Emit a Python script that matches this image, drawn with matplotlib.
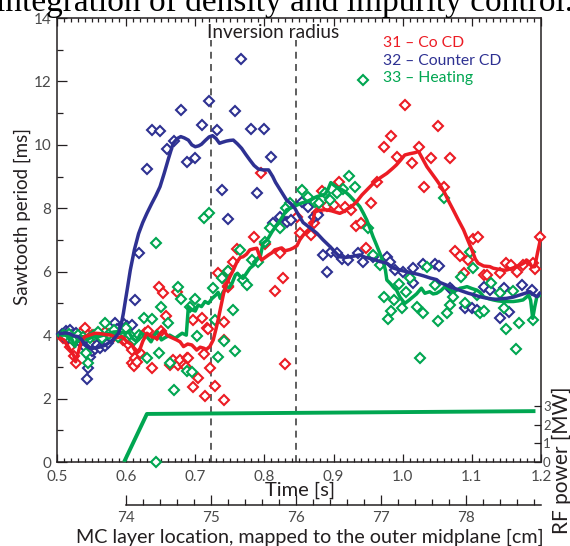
import matplotlib
matplotlib.use("Agg")
import matplotlib.pyplot as plt
from matplotlib.ticker import MultipleLocator, FixedLocator

plt.rcParams['font.family'] = ['Lato', 'DejaVu Sans']

# ---------------- data ----------------
# Sawtooth period scatter, discharge 31 (Co CD)
red_t = [0.508, 0.512, 0.516, 0.519, 0.524, 0.528, 0.532, 0.536, 0.540, 0.545,
         0.550, 0.555, 0.560, 0.565, 0.569, 0.575, 0.580, 0.585, 0.589, 0.595,
         0.600, 0.604, 0.608, 0.608, 0.611, 0.613, 0.616, 0.620, 0.627, 0.631,
         0.637, 0.644, 0.647, 0.651, 0.653, 0.658, 0.663, 0.668, 0.673, 0.675,
         0.678, 0.683, 0.688, 0.687, 0.690, 0.697, 0.697, 0.704, 0.709, 0.713,
         0.714, 0.717, 0.719, 0.721, 0.729, 0.733, 0.740, 0.741, 0.741, 0.742,
         0.747, 0.748, 0.748, 0.754, 0.761, 0.785, 0.795, 0.801, 0.815, 0.822,
         0.827, 0.830, 0.847, 0.852, 0.867, 0.871, 0.876, 0.883, 0.891, 0.900,
         0.908, 0.917, 0.925, 0.932, 0.939, 0.947, 0.954, 0.963, 0.973, 0.983,
         0.992, 1.003, 1.013, 1.023, 1.031, 1.041, 1.051, 1.060, 1.069, 1.076,
         1.083, 1.088, 1.095, 1.101, 1.109, 1.117, 1.122, 1.140, 1.150, 1.156,
         1.165, 1.174, 1.189, 1.192, 1.199]
red_v = [3.9, 4.0, 3.8, 3.64, 3.35, 3.11, 3.9, 4.1, 4.22, 4.0,
         4.0, 3.9, 4.05, 3.95, 4.11, 4.0, 3.9, 4.05, 3.95, 3.85,
         3.8, 3.7, 3.53, 3.11, 3.03, 3.27, 3.16, 3.43, 4.06, 4.13,
         2.95, 4.0, 5.51, 4.14, 5.34, 4.60, 3.06, 3.22, 5.37, 3.06,
         3.22, 3.06, 3.27, 3.01, 3.27, 4.48, 2.36, 2.64, 4.53, 3.41,
         2.09, 4.24, 4.19, 2.95, 2.40, 5.95, 5.79, 4.42, 3.85, 1.95,
         5.53, 6.03, 5.55, 6.30, 6.71, 7.11, 9.10, 6.87, 5.40, 6.58,
         5.81, 3.08, 7.74, 7.21, 7.16, 7.53, 7.84, 8.56, 8.07, 8.10,
         8.84, 8.03, 7.95, 7.44, 7.55, 6.74, 8.16, 8.84, 9.94, 10.29,
         9.63, 11.26, 9.42, 9.94, 8.68, 9.58, 10.61, 8.68, 9.58, 6.66,
         6.5, 5.97, 6.37, 7.02, 7.09, 5.9, 5.9, 5.95, 6.27, 6.2,
         6.0, 6.21, 6.27, 6.1, 7.09]

# Sawtooth period scatter, discharge 32 (Counter CD)
blue_t = [0.507, 0.510, 0.513, 0.516, 0.519, 0.522, 0.525, 0.528, 0.531, 0.534,
          0.537, 0.540, 0.544, 0.545, 0.548, 0.551, 0.555, 0.558, 0.562, 0.566,
          0.570, 0.574, 0.578, 0.584, 0.587, 0.591, 0.597, 0.601, 0.608, 0.613,
          0.618,
          0.630, 0.638, 0.649, 0.659, 0.669, 0.680, 0.688, 0.699, 0.709, 0.720,
          0.731, 0.739, 0.747, 0.758, 0.766, 0.780, 0.789, 0.799, 0.809, 0.813,
          0.823, 0.832, 0.839, 0.855, 0.863, 0.871, 0.878,
          0.885, 0.891, 0.897, 0.905, 0.912, 0.921, 0.936, 0.943, 0.957, 0.977,
          0.982, 0.989, 1.001, 1.015, 1.015, 1.029, 1.047, 1.053, 1.068, 1.071,
          1.090, 1.100, 1.107, 1.117, 1.126, 1.141, 1.146, 1.153, 1.172, 1.187]
blue_v = [4.05, 3.95, 4.12, 3.9, 4.15, 4.0, 3.85, 4.08, 3.95, 3.75,
          3.8, 3.62, 2.62, 2.95, 3.3, 3.5, 3.55, 3.7, 3.6, 3.8,
          3.65, 3.75, 3.9, 4.39, 4.2, 4.1, 4.35, 4.29, 4.32, 5.1,
          6.58,
          9.24, 10.47, 10.45, 9.88, 10.12, 11.1, 9.47, 9.59, 10.64, 11.37,
          10.46, 8.58, 7.66, 11.08, 12.71, 10.49, 8.47, 10.50, 9.61, 7.53,
          7.74, 7.58, 7.63, 8.21, 8.05, 7.74, 7.79,
          6.53, 6.0, 6.63, 6.58, 6.39, 6.37, 6.58, 6.32, 6.47, 6.47,
          6.32, 6.05, 6.0, 6.11, 5.63, 6.24, 6.24, 6.18, 5.48, 5.42,
          4.85, 4.85, 4.79, 5.53, 5.42, 4.53, 5.48, 4.74, 5.58, 5.42]

# Sawtooth period scatter, discharge 33 (Heating)
green_t = [0.508, 0.512, 0.518, 0.524, 0.530, 0.537, 0.542, 0.545, 0.548, 0.553,
           0.560, 0.565, 0.569, 0.575, 0.582, 0.588, 0.595, 0.600, 0.605, 0.612,
           0.618, 0.626, 0.630, 0.637, 0.643, 0.643, 0.647, 0.651, 0.661, 0.663,
           0.669, 0.675, 0.680, 0.688, 0.692, 0.695, 0.700, 0.702, 0.712, 0.720,
           0.725, 0.729, 0.733, 0.738, 0.742, 0.748, 0.754, 0.757, 0.765, 0.769,
           0.775, 0.782, 0.791, 0.801, 0.808, 0.823, 0.831, 0.837, 0.854, 0.863,
           0.873, 0.879, 0.888, 0.895, 0.905, 0.913, 0.923, 0.931, 0.950, 0.957,
           0.967, 0.973, 0.978, 0.983, 0.988, 0.994, 0.999, 1.005, 1.011, 1.021,
           1.025, 1.030, 1.035, 1.047, 1.051, 1.059, 1.064, 1.068, 1.073, 1.085,
           1.090, 1.097, 1.102, 1.107, 1.112, 1.118, 1.128, 1.140, 1.146, 1.149,
           1.160, 1.164, 1.168, 1.189, 0.943]
green_v = [4.0, 3.97, 4.05, 3.8, 4.0, 3.95, 3.43, 3.11, 3.9, 4.0,
           4.1, 3.9, 4.39, 4.05, 4.15, 3.95, 4.1, 4.22, 4.0, 3.85,
           4.0, 4.53, 3.27, 4.50, 6.92, 0.0, 3.43, 4.90, 4.37, 3.11,
           2.27, 5.51, 5.13, 2.88, 4.90, 2.85, 5.14, 3.97, 7.68, 7.86,
           5.48, 4.48, 3.30, 5.79, 3.83, 6.03, 4.79, 3.51, 6.69, 5.74,
           5.58, 6.37, 6.32, 6.95, 7.37, 7.37, 8.02, 8.16, 8.58, 8.37,
           8.21, 8.16, 8.47, 8.26, 8.47, 8.60, 9.02, 8.66, 7.37, 6.53,
           6.21, 5.19, 4.52, 4.76, 5.11, 5.60, 4.85, 5.37, 5.79, 4.90,
           3.27, 4.69, 6.14, 5.58, 4.46, 8.32, 4.71, 4.95, 5.21, 5.84,
           5.0, 6.63, 6.11, 5.27, 4.69, 4.77, 5.65, 5.32, 4.85, 4.18,
           5.4, 3.55, 4.37, 4.48, 12.05]

# Smoothed sawtooth period traces
red_line_t = [0.505, 0.510, 0.516, 0.520, 0.524, 0.527, 0.530, 0.533, 0.537, 0.540,
              0.547, 0.555, 0.562, 0.570, 0.578, 0.586, 0.594, 0.601, 0.608, 0.615,
              0.619, 0.624, 0.630, 0.637, 0.644, 0.649, 0.654, 0.659, 0.663, 0.668,
              0.673, 0.678, 0.683, 0.689, 0.695, 0.699, 0.702, 0.707, 0.712, 0.716,
              0.721, 0.726, 0.730, 0.733, 0.737, 0.741, 0.745, 0.750, 0.755, 0.760,
              0.765, 0.769, 0.774, 0.779, 0.784, 0.789, 0.793, 0.796, 0.801, 0.806,
              0.811, 0.815, 0.820, 0.825, 0.830, 0.837, 0.842, 0.847, 0.851, 0.856,
              0.860, 0.866, 0.870, 0.873, 0.879, 0.885, 0.890, 0.897, 0.903, 0.909,
              0.915, 0.920, 0.926, 0.933, 0.941, 0.950, 0.960, 0.968, 0.977, 0.985,
              0.991, 0.997, 1.003, 1.010, 1.017, 1.023, 1.029, 1.035, 1.042, 1.049,
              1.055, 1.061, 1.067, 1.073, 1.080, 1.088, 1.094, 1.100, 1.105, 1.109,
              1.117, 1.126, 1.131, 1.138, 1.146, 1.150, 1.157, 1.165, 1.170, 1.175,
              1.179, 1.183, 1.187, 1.191, 1.195, 1.199]
red_line_v = [3.9, 3.85, 3.64, 3.5, 3.37, 3.16, 3.4, 3.64, 3.85, 3.95,
              4.0, 4.06, 4.05, 4.02, 4.0, 3.92, 3.95, 3.8, 3.7, 3.43,
              3.5, 3.8, 4.06, 3.95, 3.90, 4.05, 4.16, 4.0, 3.95, 3.9,
              3.85, 3.79, 3.64, 3.72, 3.69, 3.6, 3.53, 3.62, 3.59, 3.55,
              3.64, 3.85, 4.2, 4.48, 4.9, 5.32, 5.6, 5.84, 6.05, 6.3,
              6.45, 6.47, 6.55, 6.69, 6.72, 6.74, 6.5, 6.37, 6.45, 6.53,
              6.6, 6.69, 6.72, 6.75, 6.66, 6.7, 6.75, 6.82, 7.0, 7.15,
              7.25, 7.37, 7.6, 7.89, 7.93, 7.95, 7.95, 7.92, 7.88, 7.84,
              7.9, 7.98, 8.05, 8.2, 8.42, 8.62, 8.84, 8.97, 9.1, 9.25,
              9.37, 9.52, 9.68, 9.72, 9.75, 9.79, 9.55, 9.31, 9.1, 8.89,
              8.7, 8.47, 8.2, 7.95, 7.65, 7.32, 7.0, 6.69, 6.4, 6.27,
              6.18, 6.16, 6.11, 6.08, 6.05, 6.05, 6.1, 6.16, 6.21, 6.27,
              6.37, 6.3, 6.15, 6.16, 6.6, 7.0]

blue_line_t = [0.505, 0.512, 0.518, 0.524, 0.531, 0.536, 0.540, 0.545, 0.550, 0.557,
               0.565, 0.571, 0.577, 0.583, 0.589, 0.593, 0.596, 0.599, 0.602, 0.606,
               0.612, 0.618, 0.624, 0.630, 0.637, 0.643, 0.649, 0.655, 0.661, 0.668,
               0.674, 0.679, 0.684, 0.690, 0.695, 0.700, 0.705, 0.709, 0.715, 0.720,
               0.725, 0.730, 0.735, 0.739, 0.745, 0.750, 0.755, 0.761, 0.767, 0.773,
               0.779, 0.785, 0.791, 0.798, 0.806, 0.812, 0.816, 0.820, 0.826, 0.832,
               0.838, 0.844, 0.849, 0.856, 0.862, 0.868, 0.876, 0.885, 0.895, 0.902,
               0.909, 0.917, 0.924, 0.931, 0.938, 0.946, 0.957, 0.967, 0.977, 0.986,
               0.996, 1.006, 1.015, 1.022, 1.030, 1.040, 1.049, 1.054, 1.063, 1.071,
               1.078, 1.087, 1.095, 1.102, 1.110, 1.118, 1.126, 1.135, 1.143, 1.150,
               1.160, 1.170, 1.177, 1.184, 1.189, 1.194, 1.198]
blue_line_v = [4.05, 4.07, 4.05, 3.98, 3.95, 3.85, 3.69, 3.62, 3.58, 3.6,
               3.64, 3.7, 3.79, 3.9, 4.06, 4.35, 4.69, 5.1, 5.5, 6.05,
               6.7, 7.2, 7.55, 7.84, 8.15, 8.4, 8.68, 9.1, 9.55, 10.05,
               10.2, 10.26, 10.22, 10.15, 10.0, 9.94, 9.97, 10.02, 10.15, 10.25,
               10.29, 10.2, 10.05, 10.08, 10.12, 10.14, 10.15, 10.03, 9.89, 9.7,
               9.52, 9.35, 9.24, 9.21, 9.21, 9.0, 8.82, 8.68, 8.47, 8.26,
               8.15, 8.0, 7.8, 7.55, 7.45, 7.35, 7.21, 7.0, 6.79, 6.62,
               6.47, 6.45, 6.47, 6.5, 6.53, 6.45, 6.4, 6.32, 6.27, 6.12,
               6.05, 6.0, 5.95, 5.92, 5.87, 5.8, 5.75, 5.66, 5.58, 5.5,
               5.45, 5.38, 5.32, 5.28, 5.22, 5.18, 5.15, 5.13, 5.15, 5.16,
               5.2, 5.27, 5.32, 5.37, 5.28, 5.21, 5.32]

green_line_t = [0.505, 0.512, 0.518, 0.522, 0.526, 0.531, 0.538, 0.545, 0.552, 0.560,
                0.567, 0.574, 0.582, 0.589, 0.598, 0.604, 0.609, 0.615, 0.621, 0.626,
                0.630, 0.636, 0.641, 0.645, 0.651, 0.656, 0.663, 0.671, 0.677, 0.681,
                0.687, 0.690, 0.695, 0.700, 0.704, 0.709, 0.714, 0.719, 0.724, 0.729,
                0.733, 0.736, 0.740, 0.745, 0.749, 0.753, 0.758, 0.761, 0.765, 0.769,
                0.774, 0.779, 0.784, 0.789, 0.794, 0.798, 0.804, 0.811, 0.817, 0.823,
                0.828, 0.832, 0.837, 0.842, 0.847, 0.853, 0.861, 0.868, 0.876, 0.884,
                0.888, 0.892, 0.896, 0.901, 0.905, 0.911, 0.917, 0.923, 0.929, 0.934,
                0.938, 0.943, 0.948, 0.953, 0.957, 0.962, 0.967, 0.972, 0.975, 0.977,
                0.982, 0.987, 0.991, 0.996, 1.003, 1.009, 1.015, 1.020, 1.027, 1.032,
                1.039, 1.044, 1.049, 1.055, 1.061, 1.067, 1.073, 1.078, 1.083, 1.088,
                1.093, 1.100, 1.107, 1.112, 1.117, 1.124, 1.131, 1.138, 1.146, 1.153,
                1.160, 1.167, 1.174, 1.179, 1.182, 1.185, 1.188, 1.191, 1.194, 1.198]
green_line_v = [4.0, 4.0, 3.95, 3.85, 3.64, 3.95, 3.95, 3.88, 3.95, 3.95,
                4.0, 4.05, 4.1, 4.11, 4.06, 4.1, 3.9, 3.8, 4.06, 4.0,
                3.95, 3.79, 4.0, 4.11, 3.85, 3.92, 4.0, 3.9, 4.0, 4.06,
                4.0, 4.9, 4.8, 4.76, 4.95, 4.9, 5.06, 5.0, 5.15, 5.25,
                5.35, 5.16, 5.35, 5.53, 5.5, 5.63, 5.9, 5.95, 5.85, 5.79,
                5.95, 6.11, 6.2, 6.37, 6.47, 6.9, 7.0, 7.26, 7.45, 7.63,
                7.8, 7.95, 8.0, 8.05, 8.1, 8.16, 8.21, 8.28, 8.37, 8.42,
                8.45, 8.6, 8.81, 8.72, 8.66, 8.6, 8.52, 8.4, 8.26, 8.15,
                8.05, 7.85, 7.63, 7.35, 7.11, 6.85, 6.58, 6.3, 6.05, 5.74,
                5.63, 5.5, 5.42, 5.2, 5.0, 5.1, 5.21, 5.3, 5.48, 5.32,
                5.37, 5.3, 5.32, 5.4, 5.53, 5.45, 5.37, 5.42, 5.48, 5.5,
                5.53, 5.47, 5.42, 5.35, 5.21, 5.15, 5.11, 5.08, 5.06, 5.06,
                5.06, 5.08, 5.11, 5.2, 5.27, 5.1, 4.53, 4.9, 5.21, 5.25]

# RF heating power
rf_t = [0.597, 0.630, 1.192]
rf_mw = [0.0, 2.57, 2.72]

# Inversion radius crossings
inversion_t = [0.723, 0.846]

# MC layer location scale: 75 cm at t = 0.723 s, 1 cm per 0.123 s
mc_ref_t, mc_ref_cm, mc_s_per_cm = 0.723, 75.0, 0.123
mc_ticks = [74, 75, 76, 77, 78]

legend_entries = [("31 \u2013 Co CD", "#ec1c24"),
                  ("32 \u2013 Counter CD", "#2e3192"),
                  ("33 \u2013 Heating", "#00a651")]

RED, BLUE, GREEN = "#ec1c24", "#2e3192", "#00a651"
TICK_GRAY = "#4a4a4a"
INK = "#231f20"

# ---------------- figure ----------------
W, H = 570, 546
fig = plt.figure(figsize=(W / 100, H / 100), dpi=100)
ax_l, ax_b, ax_w, ax_h = 57, 84, 484, 444
ax = fig.add_axes([ax_l / W, ax_b / H, ax_w / W, ax_h / H])
ax.set_xlim(0.5, 1.2)
ax.set_ylim(0, 14)

for s in ax.spines.values():
    s.set_linewidth(1.1)
    s.set_color(INK)

# scatter markers
mk = dict(ls='none', marker='D', ms=5.0, mfc='white', mew=1.5, clip_on=False)
ax.plot(red_t, red_v, mec=RED, zorder=3, **mk)
ax.plot(blue_t, blue_v, mec=BLUE, zorder=3, **mk)
ax.plot(green_t, green_v, mec=GREEN, zorder=3, **mk)

# smoothed traces
lw = 2.5
ax.plot(green_line_t, green_line_v, color=GREEN, lw=lw, zorder=4, solid_joinstyle='round')
ax.plot(red_line_t, red_line_v, color=RED, lw=lw, zorder=4, solid_joinstyle='round')
ax.plot(blue_line_t, blue_line_v, color=BLUE, lw=lw, zorder=4, solid_joinstyle='round')

# inversion radius markers
for t in inversion_t:
    ax.plot([t, t], [0, 13.3], color='#333333', lw=1.1, ls=(0, (4.5, 3.5)), zorder=2)
ax.text(0.8124, 13.55, "Inversion radius", ha='center', va='center', fontsize=13.7, color=INK)

# legend as colored text
for i, (label, col) in enumerate(legend_entries):
    ax.text(0.674, 0.943 - i * 0.0395, label, transform=ax.transAxes,
            ha='left', va='center', fontsize=11.3, color=col)

# ticks of the main axes
ax.xaxis.set_major_locator(MultipleLocator(0.1))
ax.xaxis.set_minor_locator(MultipleLocator(0.01))
ax.yaxis.set_major_locator(MultipleLocator(2))
ax.yaxis.set_minor_locator(MultipleLocator(1))
ax.tick_params(axis='both', which='both', direction='in', top=True, right=False,
               colors=INK, labelcolor=TICK_GRAY, labelsize=11, width=0.9)
ax.tick_params(axis='x', which='major', length=6, pad=6)
ax.tick_params(axis='x', which='minor', length=3)
ax.tick_params(axis='y', which='major', length=7, pad=4)
ax.tick_params(axis='y', which='minor', length=4)
ax.set_xticklabels([f"{v:.1f}" for v in ax.get_xticks()])

# RF power axis
ax2 = ax.twinx()
ax2.set_ylim(0, ax_h / 18.7)
ax2.set_yticks([0, 1, 2, 3])
ax2.tick_params(axis='y', direction='in', length=5, width=0.9, colors=INK,
                labelcolor=TICK_GRAY, labelsize=9.5, pad=1.5)
for s in ax2.spines.values():
    s.set_visible(False)
ax2.plot(rf_t, rf_mw, color=GREEN, lw=2.8, solid_capstyle='butt', zorder=5)

# MC layer location axis
def t_to_cm(t):
    return mc_ref_cm + (t - mc_ref_t) / mc_s_per_cm

def t_to_px(t):
    return ax_l + (t - 0.5) / 0.7 * ax_w

t74 = mc_ref_t + (mc_ticks[0] - mc_ref_cm) * mc_s_per_cm
mc_left = t_to_px(t74)
mc_y = 505
ax3 = fig.add_axes([mc_left / W, 1 - mc_y / H, (ax_l + ax_w - mc_left) / W, 0.0001])
ax3.set_xlim(mc_ticks[0], t_to_cm(1.2))
ax3.set_yticks([])
for k in ('left', 'right', 'top'):
    ax3.spines[k].set_visible(False)
ax3.spines['bottom'].set_linewidth(1.1)
ax3.spines['bottom'].set_color(INK)
ax3.patch.set_visible(False)
ax3.xaxis.set_major_locator(FixedLocator(mc_ticks))
ax3.xaxis.set_minor_locator(MultipleLocator(0.2))
ax3.tick_params(axis='x', which='both', direction='in', colors=INK,
                labelcolor=TICK_GRAY, labelsize=11, width=0.9)
ax3.tick_params(axis='x', which='major', length=7, pad=4)
ax3.tick_params(axis='x', which='minor', length=4)

# axis titles
fig.text(22 / W, 1 - 217 / H, "Sawtooth period [ms]", rotation=90, ha='center', va='center',
         fontsize=13.5, color=INK)
fig.text(300 / W, 1 - 490 / H, "Time [s]", ha='center', va='center', fontsize=14.5, color=INK)
fig.text(310 / W, 1 - 537 / H, "MC layer location, mapped to the outer midplane [cm]",
         ha='center', va='center', fontsize=14.2, color=INK)
fig.text(561.5 / W, 1 - 460 / H, "RF power [MW]", rotation=90, ha='center', va='center',
         fontsize=15, color=INK)

# running text of the page above the figure
fig.text(0.5, 1 - 10.5 / H, "integration of density and impurity control.",
         ha='center', va='baseline', fontsize=24, family='Liberation Serif', color='black')

fig.savefig("out.png", dpi=100)
